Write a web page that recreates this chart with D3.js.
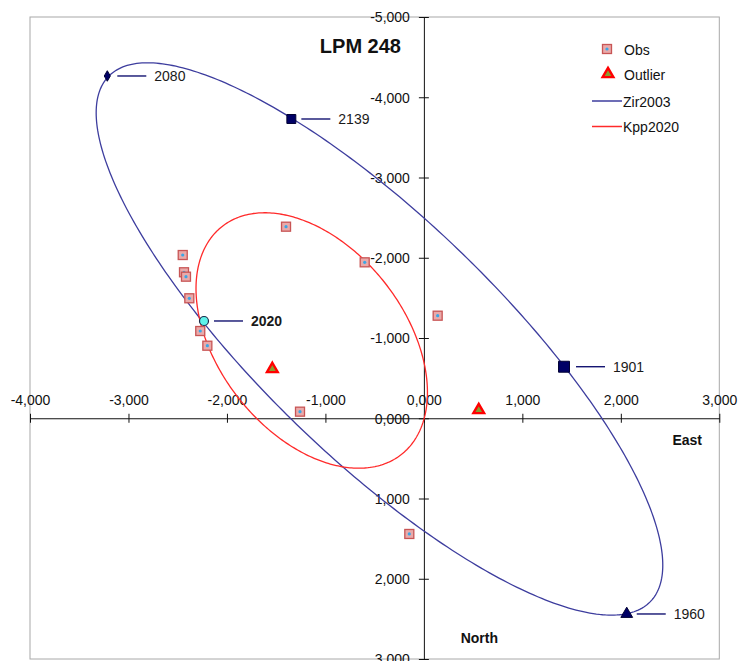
<!DOCTYPE html>
<html>
<head>
<meta charset="utf-8">
<script src="https://cdn.jsdelivr.net/npm/d3@7"></script>
<style>
  html, body { margin: 0; padding: 0; background: #fff; }
  svg { display: block; font-family: "Liberation Sans", Arial, sans-serif; }
</style>
</head>
<body>
<svg id="chart" width="747" height="661"></svg>
<script>
// Relative positions of LPM 248 (East / North offsets)
const obsEast  = [-2449, -2436, -2416, -2382, -2271, -2199, -1400, -601, 140, -1258, -148];
const obsNorth = [-2034, -1819, -1764, -1495, -1087, -904, -2387, -1943, -1278, -82, 1442];

const outlierEast  = [-1539, 557];
const outlierNorth = [-614, -103];

// Epoch markers along the Zir2003 orbit
const epochYears = ["1901", "1960", "2020", "2080", "2139"];
const epochEast  = [1423, 2060, -2233, -3215, -1346];
const epochNorth = [-642, 2439, -1212, -4265, -3729];

// Apparent orbit ellipses: centre, semi-axes and axis angle in data units
const orbitNames  = ["Zir2003", "Kpp2020"];
const orbitCenterE = [-451, -1139];
const orbitCenterN = [-988, -969];
const orbitSemiMajor = [4285, 1706];
const orbitSemiMinor = [1326, 1002];
const orbitAngleDeg  = [51.2, 63.6];

const xTicks = [-4000, -3000, -2000, -1000, 0, 1000, 2000, 3000];
const xTickLabels = ["-4,000", "-3,000", "-2,000", "-1,000", "0,000", "1,000", "2,000", "3,000"];
const yTicks = [-5000, -4000, -3000, -2000, -1000, 0, 1000, 2000, 3000];
const yTickLabels = ["-5,000", "-4,000", "-3,000", "-2,000", "-1,000", "0,000", "1,000", "2,000", "3,000"];

const svg = d3.select("#chart");
const plotLeft = 30, plotRight = 719.3, plotTop = 17, plotBottom = 659;

const x = d3.scaleLinear().domain([-4000, 3000]).range([plotLeft, plotRight]);
const y = d3.scaleLinear().domain([-5000, 3000]).range([plotTop, plotBottom]);

const blue = "#3d3d9e";
const red = "#ff2a2a";
const navy = "#000066";

// plot area frame
svg.append("rect")
  .attr("x", plotLeft).attr("y", plotTop)
  .attr("width", plotRight - plotLeft).attr("height", plotBottom - plotTop)
  .attr("fill", "none").attr("stroke", "#a8a8a8").attr("stroke-width", 1);

// axes crossing at the origin
const xAxis = svg.append("g")
  .attr("transform", `translate(0,${y(0)})`)
  .call(d3.axisBottom(x).tickValues(xTicks).tickSizeOuter(0)
    .tickFormat((d, i) => xTickLabels[i]));
xAxis.selectAll(".tick line").attr("y1", -4.5).attr("y2", 4.5).attr("stroke", "#111");
xAxis.selectAll(".tick text").attr("y", -13).attr("dy", 0)
  .attr("font-size", 14).attr("fill", "#111").attr("font-family", "Liberation Sans, Arial, sans-serif");
xAxis.select(".domain").attr("stroke", "#111");

const yAxis = svg.append("g")
  .attr("transform", `translate(${x(0)},0)`)
  .call(d3.axisLeft(y).tickValues(yTicks).tickSizeOuter(0)
    .tickFormat((d, i) => yTickLabels[i]));
yAxis.selectAll(".tick line").attr("x1", -5).attr("x2", 5).attr("stroke", "#111");
yAxis.selectAll(".tick text").attr("x", -14).attr("dy", "0.35em")
  .attr("font-size", 14).attr("fill", "#111").attr("font-family", "Liberation Sans, Arial, sans-serif");
yAxis.select(".domain").attr("stroke", "#111");

// orbit ellipses
function ellipsePath(i) {
  const a = orbitSemiMajor[i], b = orbitSemiMinor[i];
  const phi = orbitAngleDeg[i] * Math.PI / 180;
  const pts = d3.range(0, 361).map(k => {
    const t = k * Math.PI / 180;
    const e = orbitCenterE[i] + a * Math.cos(t) * Math.cos(phi) - b * Math.sin(t) * Math.sin(phi);
    const n = orbitCenterN[i] + a * Math.cos(t) * Math.sin(phi) + b * Math.sin(t) * Math.cos(phi);
    return [x(e), y(n)];
  });
  return d3.line()(pts) + "Z";
}
const orbitColors = [blue, red];
orbitNames.forEach((name, i) => {
  svg.append("path").attr("d", ellipsePath(i))
    .attr("fill", "none").attr("stroke", orbitColors[i]).attr("stroke-width", 1.3);
});

// observations
const obs = svg.append("g");
obsEast.forEach((e, i) => {
  const cx = x(e), cy = y(obsNorth[i]);
  obs.append("rect").attr("x", cx - 4.5).attr("y", cy - 4.5).attr("width", 9).attr("height", 9)
    .attr("fill", "#e9aaaa").attr("stroke", "#c85555").attr("stroke-width", 1.3);
  obs.append("circle").attr("cx", cx).attr("cy", cy).attr("r", 1.6).attr("fill", "#3aa6e6");
});

// outliers
const tri = d3.symbol().type(d3.symbolTriangle).size(50);
outlierEast.forEach((e, i) => {
  svg.append("path").attr("d", tri())
    .attr("transform", `translate(${x(e)},${y(outlierNorth[i])})`)
    .attr("fill", "#8a9c2e").attr("stroke", "#ff0000").attr("stroke-width", 2.4)
    .attr("stroke-linejoin", "miter");
});

// epoch markers with leader lines and labels
const epochSymbols = [
  d3.symbol().type(d3.symbolSquare).size(120),
  d3.symbol().type(d3.symbolTriangle).size(60),
  null,
  d3.symbol().type(d3.symbolDiamond).size(32),
  d3.symbol().type(d3.symbolSquare).size(80)
];
epochYears.forEach((yr, i) => {
  const cx = x(epochEast[i]), cy = y(epochNorth[i]);
  const offset = i === 0 ? 12 : 10;
  svg.append("line").attr("x1", cx + offset).attr("x2", cx + offset + 29)
    .attr("y1", cy).attr("y2", cy).attr("stroke", navy).attr("stroke-width", 1.3);
  svg.append("text").attr("x", cx + offset + 37).attr("y", cy + 5)
    .attr("font-size", 14).attr("fill", "#1a1a1a")
    .attr("font-weight", yr === "2020" ? "bold" : "normal")
    .text(yr);
  if (epochSymbols[i]) {
    svg.append("path").attr("d", epochSymbols[i]())
      .attr("transform", `translate(${cx},${cy})`)
      .attr("fill", navy).attr("stroke", "#000033").attr("stroke-width", 1);
  } else {
    svg.append("circle").attr("cx", cx).attr("cy", cy).attr("r", 4.5)
      .attr("fill", "#5ff2ea").attr("stroke", "#1a2a4a").attr("stroke-width", 1.2);
  }
});

// title and axis names
svg.append("text").attr("x", 401).attr("y", 53).attr("text-anchor", "end")
  .attr("font-size", 20).attr("font-weight", "bold").attr("fill", "#111").text("LPM 248");
svg.append("text").attr("x", 702).attr("y", 445).attr("text-anchor", "end")
  .attr("font-size", 14).attr("font-weight", "bold").attr("fill", "#111").text("East");
svg.append("text").attr("x", 498).attr("y", 643).attr("text-anchor", "end")
  .attr("font-size", 14).attr("font-weight", "bold").attr("fill", "#111").text("North");

// legend
const lg = svg.append("g");
lg.append("rect").attr("x", 607 - 4.5).attr("y", 49 - 4.5).attr("width", 9).attr("height", 9)
  .attr("fill", "#e9aaaa").attr("stroke", "#c85555").attr("stroke-width", 1.3);
lg.append("circle").attr("cx", 607).attr("cy", 49).attr("r", 1.6).attr("fill", "#3aa6e6");
lg.append("text").attr("x", 624).attr("y", 55).attr("font-size", 14).attr("fill", "#111").text("Obs");
lg.append("path").attr("d", tri()).attr("transform", "translate(608,74)")
  .attr("fill", "#8a9c2e").attr("stroke", "#ff0000").attr("stroke-width", 2.4);
lg.append("text").attr("x", 624).attr("y", 80).attr("font-size", 14).attr("fill", "#111").text("Outlier");
orbitNames.forEach((name, i) => {
  const ly = 101 + i * 25.5;
  lg.append("line").attr("x1", 592).attr("x2", 622).attr("y1", ly).attr("y2", ly)
    .attr("stroke", orbitColors[i]).attr("stroke-width", 1.5);
  lg.append("text").attr("x", 623).attr("y", ly + 5.5).attr("font-size", 14).attr("fill", "#111").text(name);
});
</script>
</body>
</html>
